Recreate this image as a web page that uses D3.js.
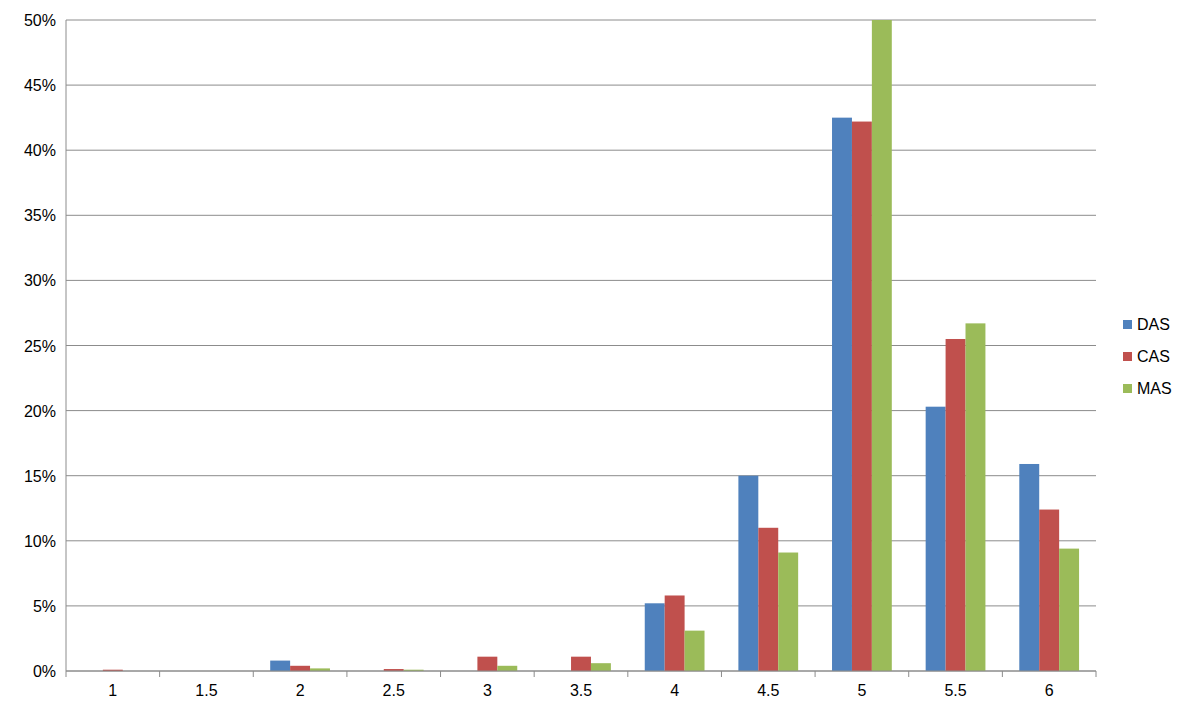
<!DOCTYPE html>
<html><head><meta charset="utf-8">
<script src="https://cdn.jsdelivr.net/npm/d3@7"></script>
<style>body{margin:0;background:#fff}text{font-family:"Liberation Sans",Arial,sans-serif}</style>
</head><body><svg id="c" width="1200" height="716"></svg>
<script>
const categories=["1","1.5","2","2.5","3","3.5","4","4.5","5","5.5","6"];
const seriesNames=["DAS","CAS","MAS"];
const DAS=[0,0,0.8,0,0,0,5.2,15.0,42.5,20.3,15.9];
const CAS=[0.1,0,0.4,0.15,1.1,1.1,5.8,11.0,42.2,25.5,12.4];
const MAS=[0,0,0.2,0.1,0.4,0.6,3.1,9.1,50.0,26.7,9.4];
const yTicks=[0,5,10,15,20,25,30,35,40,45,50];
const colors=["#4F81BD","#C0504D","#9BBB59"];
const data=[DAS,CAS,MAS];
const svg=d3.select("#c");
const L=66,R=1096,T=20,B=671;
const x=d3.scaleBand().domain(categories).range([L,R]);
const xs=d3.scaleBand().domain(seriesNames).range([0,x.bandwidth()]).paddingOuter(0.85).paddingInner(0);
const y=d3.scaleLinear().domain([0,50]).range([B,T]);
svg.append("g").selectAll("line").data(yTicks).join("line")
 .attr("x1",L).attr("x2",R).attr("y1",d=>y(d)).attr("y2",d=>y(d)).attr("stroke","#8c8c8c").attr("stroke-width",1);
svg.append("line").attr("x1",L).attr("x2",L).attr("y1",T).attr("y2",B).attr("stroke","#8c8c8c");
svg.append("g").selectAll("text").data(yTicks).join("text")
 .attr("x",L-10).attr("y",d=>y(d)+6).attr("text-anchor","end").attr("font-size",16).attr("fill","#000").text(d=>d+"%");
seriesNames.forEach((s,i)=>{
 svg.append("g").selectAll("rect").data(categories).join("rect")
  .attr("x",c=>x(c)+xs(s)).attr("width",xs.bandwidth())
  .attr("y",(c,j)=>y(data[i][j])).attr("height",(c,j)=>B-y(data[i][j])).attr("fill",colors[i]);
});
const xa=svg.append("g").attr("transform",`translate(0,${B})`);
xa.append("line").attr("x1",L).attr("x2",R).attr("stroke","#8c8c8c");
xa.selectAll("line.t").data(categories.concat([null])).join("line").attr("class","t")
 .attr("x1",(c,i)=>L+i*x.step()).attr("x2",(c,i)=>L+i*x.step()).attr("y1",0).attr("y2",6).attr("stroke","#8c8c8c");
xa.selectAll("text").data(categories).join("text")
 .attr("x",c=>x(c)+x.bandwidth()/2).attr("y",25).attr("text-anchor","middle").attr("font-size",16).text(c=>c);
const lg=svg.append("g");
seriesNames.forEach((s,i)=>{
 const yy=325+i*32;
 lg.append("rect").attr("x",1123).attr("y",yy-5).attr("width",9).attr("height",9).attr("fill",colors[i]);
 lg.append("text").attr("x",1137).attr("y",yy+5).attr("font-size",16).text(s);
});
</script></body></html>
